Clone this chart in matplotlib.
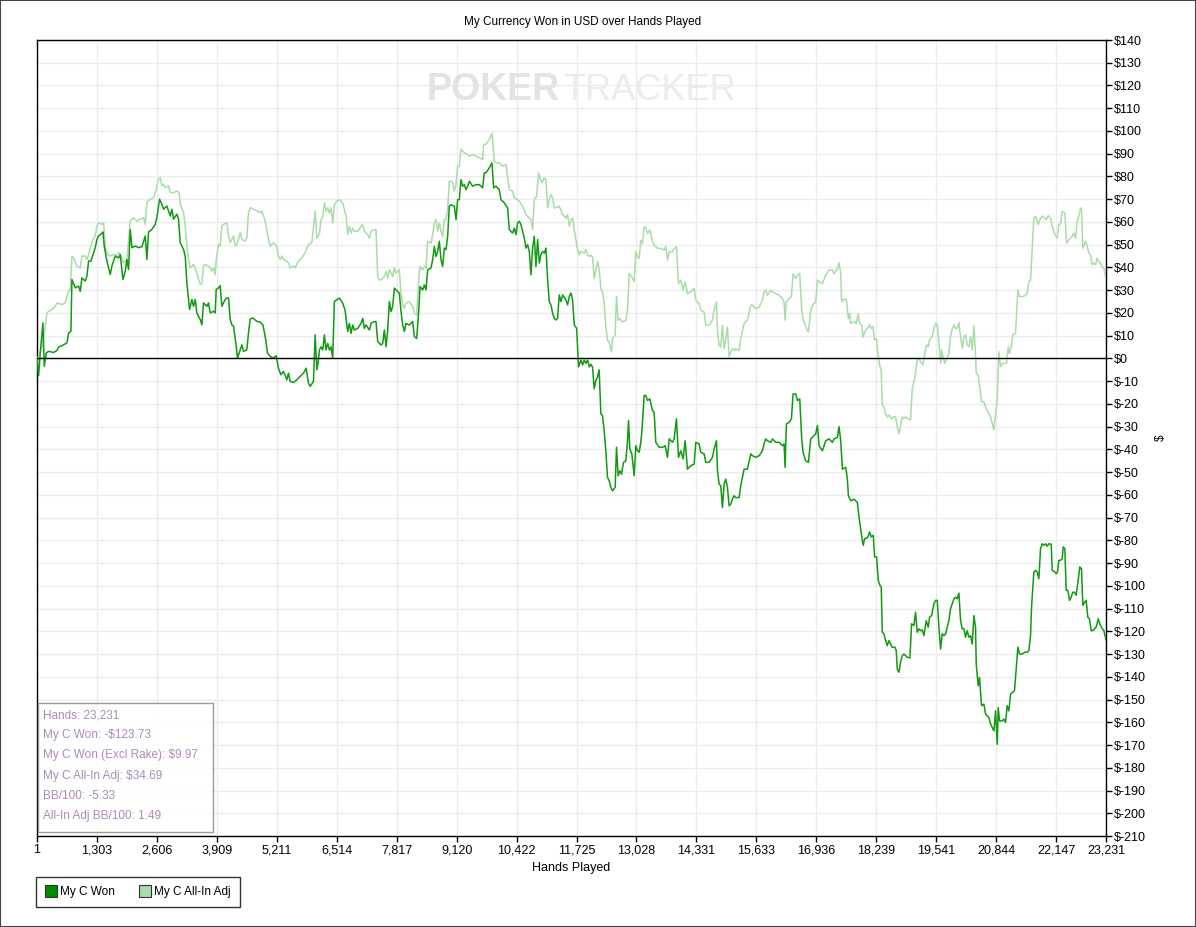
import matplotlib
matplotlib.use("Agg")
import matplotlib.pyplot as plt
from matplotlib.lines import Line2D
from matplotlib.patches import Rectangle

# --- data ----------------------------------------------------------------
won_hands = [1, 36, 72, 130, 159, 203, 253, 362, 434, 471, 579, 652, 688, 738, 760, 833, 905, 941,
             977, 1050, 1086, 1122, 1173, 1231, 1267, 1303, 1339, 1412, 1434, 1462, 1520, 1593, 1629,
             1701, 1774, 1810, 1868, 1919, 1955, 1991, 2027, 2063, 2136, 2208, 2281, 2353, 2389, 2425,
             2498, 2570, 2606, 2664, 2715, 2751, 2824, 2896, 2932, 2968, 3041, 3077, 3113, 3186, 3222,
             3258, 3316, 3367, 3403, 3439, 3475, 3511, 3548, 3584, 3620, 3692, 3728, 3765, 3837, 3873,
             3895, 3946, 3982, 4018, 4054, 4090, 4127, 4163, 4199, 4235, 4272, 4330, 4358, 4416, 4453,
             4489, 4561, 4597, 4634, 4692, 4778, 4851, 4909, 4959, 5010, 5068, 5140, 5198, 5249, 5300,
             5358, 5430, 5466, 5502, 5575, 5647, 5720, 5792, 5850, 5901, 5937, 6009, 6045, 6082, 6118,
             6138, 6174, 6210, 6246, 6282, 6319, 6355, 6391, 6427, 6463, 6514, 6572, 6644, 6695, 6753,
             6789, 6825, 6862, 6898, 6970, 7043, 7079, 7115, 7151, 7224, 7260, 7332, 7368, 7405, 7477,
             7513, 7549, 7586, 7622, 7658, 7694, 7730, 7767, 7803, 7875, 7911, 7948, 7984, 8020, 8092,
             8165, 8201, 8252, 8295, 8324, 8382, 8418, 8454, 8491, 8563, 8599, 8635, 8672, 8708, 8744,
             8780, 8816, 8853, 8889, 8925, 8961, 8997, 9070, 9106, 9142, 9178, 9215, 9251, 9287, 9323,
             9359, 9396, 9468, 9540, 9613, 9685, 9721, 9758, 9830, 9888, 9924, 9975, 10047, 10083,
             10156, 10228, 10264, 10337, 10373, 10409, 10445, 10482, 10518, 10554, 10590, 10626, 10663,
             10699, 10735, 10771, 10807, 10844, 10880, 10916, 10952, 10988, 11025, 11061, 11097, 11133,
             11169, 11206, 11242, 11278, 11314, 11350, 11387, 11423, 11495, 11531, 11568, 11604, 11640,
             11676, 11727, 11770, 11821, 11857, 11893, 11929, 11966, 12002, 12036, 12073, 12109, 12145,
             12181, 12217, 12254, 12290, 12326, 12362, 12398, 12435, 12471, 12507, 12565, 12594, 12630,
             12666, 12702, 12746, 12797, 12833, 12855, 12883, 12927, 12978, 13014, 13050, 13086, 13122,
             13144, 13195, 13231, 13267, 13318, 13376, 13412, 13448, 13521, 13593, 13651, 13702, 13738,
             13810, 13846, 13897, 13941, 13991, 14042, 14085, 14136, 14208, 14281, 14317, 14389, 14426,
             14498, 14534, 14607, 14679, 14715, 14766, 14788, 14824, 14860, 14896, 14932, 14969, 15005,
             15041, 15077, 15113, 15150, 15186, 15258, 15294, 15331, 15367, 15439, 15512, 15548, 15620,
             15693, 15765, 15801, 15837, 15874, 15946, 15982, 16055, 16127, 16199, 16236, 16257, 16286,
             16344, 16395, 16431, 16489, 16525, 16576, 16619, 16648, 16706, 16764, 16815, 16851, 16923,
             16960, 16996, 17068, 17141, 17213, 17285, 17322, 17394, 17430, 17466, 17503, 17575, 17611,
             17633, 17684, 17756, 17828, 17865, 17935, 17957, 17985, 18022, 18058, 18094, 18130, 18174,
             18203, 18246, 18282, 18319, 18347, 18369, 18405, 18442, 18478, 18514, 18550, 18586, 18644,
             18673, 18695, 18731, 18767, 18804, 18840, 18876, 18912, 18970, 19006, 19057, 19093, 19129,
             19166, 19202, 19238, 19274, 19325, 19368, 19397, 19441, 19491, 19528, 19564, 19600, 19636,
             19672, 19709, 19745, 19781, 19817, 19853, 19890, 19926, 19962, 19998, 20034, 20071, 20107,
             20143, 20179, 20215, 20252, 20288, 20324, 20360, 20396, 20411, 20454, 20483, 20527, 20577,
             20614, 20650, 20686, 20722, 20758, 20795, 20831, 20867, 20889, 20918, 20976, 21012, 21048,
             21084, 21120, 21157, 21193, 21243, 21280, 21316, 21352, 21410, 21468, 21519, 21555, 21591,
             21613, 21663, 21700, 21736, 21772, 21808, 21844, 21881, 21917, 21953, 21989, 22040, 22062,
             22120, 22149, 22177, 22206, 22243, 22279, 22301, 22337, 22366, 22402, 22438, 22474, 22510,
             22547, 22583, 22626, 22662, 22699, 22728, 22764, 22800, 22836, 22872, 22909, 22945, 22981,
             23017, 23061, 23097, 23148, 23184, 23231]
won_usd = [0, -7.6, 2.4, 15.6, -3.5, 2.4, 3.1, 2.6, 3.5, 5.0, 6.0, 6.8, 11.2, 11.9, 34.7, 31.0, 31.8,
           29.5, 35.4, 34.0, 36.2, 42.8, 42.8, 46.5, 48.7, 52.3, 53.8, 55.0, 55.6, 49.4, 42.8, 36.9,
           40.6, 45.0, 44.2, 45.7, 34.7, 38.4, 43.5, 39.1, 56.7, 48.7, 49.4, 48.7, 49.1, 53.8, 43.5,
           55.6, 56.7, 58.9, 61.9, 70.0, 67.8, 65.6, 67.0, 62.6, 65.6, 61.2, 63.4, 61.2, 50.9, 47.9,
           45.0, 33.2, 21.5, 25.9, 22.9, 25.9, 20.0, 18.5, 17.1, 14.8, 24.4, 22.9, 24.4, 20.0, 20.7,
           20.0, 30.3, 31.0, 32.0, 22.9, 24.4, 25.9, 26.6, 26.6, 17.1, 14.8, 14.1, 5.3, 0.1, 3.8, 6.0,
           3.1, 3.8, 11.2, 17.3, 17.8, 16.3, 15.9, 14.8, 9.7, 2.4, 0.9, 0.1, 1.2, -4.3, -7.2, -5.7,
           -9.4, -6.5, -10.1, -10.6, -9.4, -7.9, -6.5, -4.3, -10.9, -12.3, -10.1, 10.4, -5.0, -0.6,
           3.7, 5.1, 3.7, 10.3, 3.7, 6.6, 3.7, 5.1, 0.0, 25.0, 25.7, 26.5, 24.3, 21.3, 11.8, 15.4,
           11.0, 14.7, 12.5, 13.2, 15.4, 17.6, 13.2, 14.7, 12.5, 15.4, 16.2, 16.2, 7.4, 5.9, 6.6, 12.5,
           5.1, 12.5, 25.0, 20.6, 22.8, 30.9, 30.1, 28.7, 20.6, 14.7, 11.8, 15.4, 14.7, 16.2, 9.6, 8.8,
           20.6, 31.6, 30.1, 32.3, 30.1, 39.0, 39.7, 43.4, 49.2, 44.8, 47.0, 51.5, 43.4, 40.4, 48.5,
           47.8, 53.7, 66.9, 67.6, 66.9, 61.0, 69.8, 69.8, 78.6, 75.7, 76.4, 74.2, 75.7, 77.9, 75.7,
           76.4, 76.4, 75.0, 81.6, 81.6, 83.8, 86.0, 75.0, 75.7, 74.2, 69.8, 68.4, 66.2, 56.6, 55.1,
           57.3, 54.4, 59.5, 60.3, 58.8, 55.9, 52.9, 48.5, 50.0, 47.0, 36.8, 48.5, 53.7, 40.4, 52.2,
           41.9, 45.6, 47.0, 46.3, 48.5, 34.5, 25.0, 23.5, 19.8, 17.6, 16.9, 17.6, 27.9, 25.0, 27.9,
           25.7, 23.5, 27.2, 28.7, 25.7, 14.7, 13.2, -3.7, -0.7, -2.9, -0.7, -2.2, -0.7, -3.7, -2.6,
           -3.8, -13.4, -9.7, -8.2, -5.0, -24.4, -25.1, -31.8, -40.6, -52.3, -53.8, -56.7, -58.2,
           -56.7, -39.1, -51.6, -49.4, -50.9, -45.7, -45.0, -36.2, -27.3, -39.8, -42.0, -51.6, -38.4,
           -40.6, -41.3, -36.9, -32.5, -16.3, -16.3, -18.5, -17.8, -22.9, -23.7, -36.9, -39.1, -39.1,
           -38.4, -43.5, -35.4, -36.9, -35.4, -26.6, -43.5, -40.6, -44.2, -36.2, -48.7, -47.2, -46.5,
           -36.9, -37.6, -41.3, -42.0, -45.7, -45.7, -43.5, -39.8, -36.2, -49.4, -55.3, -56.0, -65.6,
           -55.3, -53.1, -56.7, -64.8, -64.1, -61.9, -60.4, -61.2, -61.2, -56.0, -52.3, -48.7, -48.7,
           -42.0, -42.8, -43.5, -42.8, -40.6, -37.6, -35.4, -36.2, -36.9, -35.4, -36.9, -36.9, -38.4,
           -37.6, -47.9, -28.8, -28.1, -26.6, -15.6, -15.6, -18.5, -17.8, -35.4, -41.3, -45.0, -45.7,
           -35.4, -34.7, -33.2, -29.5, -38.4, -40.6, -36.2, -35.4, -36.9, -35.4, -34.7, -30.0, -36.2,
           -48.7, -47.9, -53.1, -60.4, -62.6, -61.9, -63.4, -70.0, -80.0, -82.2, -79.2, -79.2, -78.5,
           -76.3, -78.5, -77.8, -87.3, -87.3, -97.6, -99.8, -100.6, -120.4, -121.1, -124.1, -126.3,
           -124.1, -125.6, -127.0, -127.0, -128.5, -136.6, -138.0, -133.6, -130.7, -130.0, -130.7,
           -131.4, -131.7, -116.7, -117.5, -111.6, -120.4, -118.9, -119.7, -119.4, -121.9, -115.3,
           -118.2, -113.8, -113.1, -107.9, -106.4, -106.4, -118.2, -127.8, -121.1, -121.9, -121.1,
           -118.2, -115.3, -110.1, -107.9, -105.7, -105.0, -105.7, -103.2, -115.3, -118.9, -118.9,
           -122.6, -119.7, -122.6, -121.9, -125.6, -113.1, -118.2, -134.4, -143.9, -140.3, -152.7,
           -152.0, -156.4, -157.2, -157.9, -160.8, -162.3, -163.8, -155.0, -169.7, -153.5, -159.4,
           -159.4, -158.6, -160.1, -152.7, -155.0, -147.6, -146.9, -146.1, -136.6, -127.0, -130.0,
           -130.0, -129.2, -129.2, -128.5, -121.9, -109.4, -93.9, -93.2, -93.9, -96.9, -83.7, -81.5,
           -82.2, -81.5, -82.6, -81.5, -81.7, -93.2, -93.9, -94.7, -93.9, -88.8, -88.8, -88.1, -82.9,
           -83.7, -102.0, -102.0, -106.4, -105.0, -102.8, -102.8, -104.2, -97.6, -91.7, -92.5, -108.6,
           -107.2, -106.4, -113.8, -114.5, -119.7, -119.7, -118.9, -118.2, -114.5, -116.7, -118.9,
           -119.7, -123.73]

adj_hands = [1, 36, 108, 181, 217, 253, 326, 398, 434, 543, 615, 652, 688, 724, 760, 796, 869, 941,
             977, 1050, 1086, 1122, 1158, 1231, 1267, 1303, 1339, 1412, 1448, 1484, 1535, 1593, 1665,
             1723, 1774, 1810, 1882, 1955, 2027, 2099, 2172, 2244, 2317, 2353, 2389, 2462, 2534, 2592,
             2643, 2679, 2715, 2751, 2787, 2860, 2896, 2968, 3041, 3091, 3113, 3186, 3222, 3258, 3294,
             3330, 3367, 3403, 3475, 3511, 3548, 3584, 3620, 3656, 3728, 3765, 3801, 3837, 3873, 3895,
             3946, 3982, 4018, 4054, 4127, 4163, 4199, 4235, 4272, 4308, 4344, 4380, 4416, 4453, 4525,
             4561, 4597, 4634, 4706, 4778, 4851, 4887, 4959, 5031, 5068, 5140, 5213, 5249, 5285, 5321,
             5358, 5430, 5466, 5502, 5575, 5611, 5683, 5756, 5828, 5901, 5973, 6045, 6082, 6140, 6174,
             6210, 6246, 6282, 6319, 6355, 6391, 6427, 6463, 6514, 6572, 6644, 6680, 6717, 6753, 6789,
             6825, 6862, 6898, 6970, 7043, 7079, 7115, 7151, 7188, 7224, 7260, 7332, 7368, 7405, 7441,
             7477, 7549, 7586, 7622, 7658, 7694, 7730, 7767, 7803, 7875, 7911, 7948, 7984, 8020, 8092,
             8165, 8201, 8252, 8295, 8324, 8382, 8418, 8454, 8491, 8563, 8599, 8635, 8672, 8708, 8744,
             8780, 8816, 8853, 8889, 8925, 8961, 8997, 9034, 9070, 9106, 9142, 9178, 9215, 9251, 9287,
             9359, 9396, 9468, 9540, 9613, 9685, 9707, 9758, 9830, 9888, 9939, 9975, 10047, 10120,
             10192, 10264, 10337, 10373, 10445, 10482, 10554, 10626, 10699, 10735, 10771, 10807, 10858,
             10901, 10930, 10973, 11025, 11061, 11097, 11133, 11169, 11206, 11242, 11278, 11350, 11423,
             11459, 11495, 11531, 11568, 11604, 11640, 11676, 11712, 11748, 11785, 11821, 11893, 11929,
             11966, 12002, 12036, 12073, 12109, 12145, 12181, 12217, 12254, 12290, 12326, 12362, 12398,
             12435, 12485, 12507, 12565, 12594, 12630, 12666, 12724, 12797, 12833, 12869, 12927, 12978,
             13014, 13050, 13086, 13122, 13159, 13195, 13231, 13267, 13318, 13376, 13412, 13484, 13557,
             13629, 13665, 13702, 13738, 13810, 13846, 13897, 13941, 13991, 14042, 14085, 14136, 14208,
             14281, 14317, 14389, 14426, 14498, 14534, 14607, 14679, 14715, 14766, 14788, 14824, 14860,
             14896, 14932, 14969, 15005, 15041, 15077, 15113, 15150, 15186, 15258, 15294, 15331, 15367,
             15439, 15512, 15548, 15620, 15693, 15765, 15801, 15837, 15874, 15946, 15982, 16055, 16127,
             16199, 16236, 16257, 16286, 16344, 16395, 16431, 16489, 16525, 16576, 16619, 16648, 16706,
             16764, 16815, 16851, 16923, 16960, 16996, 17068, 17141, 17213, 17285, 17322, 17394, 17430,
             17466, 17486, 17537, 17587, 17631, 17660, 17681, 17754, 17804, 17841, 17877, 17920, 17949,
             17993, 18043, 18094, 18130, 18166, 18203, 18246, 18282, 18319, 18347, 18369, 18405, 18442,
             18478, 18514, 18572, 18608, 18659, 18695, 18731, 18767, 18804, 18840, 18876, 18948, 18985,
             19021, 19079, 19129, 19166, 19202, 19252, 19296, 19332, 19368, 19397, 19455, 19491, 19528,
             19564, 19600, 19636, 19658, 19687, 19730, 19759, 19817, 19853, 19890, 19926, 19962, 19998,
             20034, 20071, 20107, 20143, 20179, 20215, 20252, 20288, 20324, 20360, 20396, 20411, 20454,
             20483, 20527, 20577, 20614, 20664, 20722, 20758, 20795, 20831, 20867, 20903, 20939, 20976,
             21026, 21070, 21106, 21135, 21171, 21207, 21265, 21316, 21352, 21410, 21468, 21519, 21555,
             21591, 21613, 21663, 21700, 21758, 21794, 21844, 21902, 21931, 21975, 22025, 22062, 22120,
             22149, 22170, 22206, 22243, 22279, 22337, 22373, 22424, 22496, 22532, 22568, 22605, 22641,
             22677, 22699, 22728, 22786, 22822, 22858, 22894, 22930, 22967, 23003, 23039, 23075, 23111,
             23148, 23184, 23231]
adj_usd = [0, 0.9, 5.3, 14.1, 20.0, 20.7, 21.5, 22.9, 24.4, 23.7, 24.4, 27.3, 29.5, 30.3, 45.0, 44.2,
           40.6, 39.8, 45.0, 45.0, 43.5, 45.7, 48.7, 53.1, 53.8, 58.2, 59.7, 58.9, 59.7, 48.7, 45.7,
           45.0, 45.7, 45.0, 46.5, 45.7, 42.0, 43.5, 60.4, 61.9, 60.4, 61.2, 61.9, 58.9, 68.5, 70.0,
           70.7, 74.4, 78.8, 79.5, 75.9, 76.6, 75.1, 75.9, 72.9, 72.9, 73.6, 72.9, 67.8, 64.1, 58.2,
           49.4, 43.5, 39.8, 40.6, 41.3, 37.6, 34.7, 32.5, 33.2, 40.6, 41.3, 40.6, 39.8, 38.4, 39.8,
           36.9, 43.5, 50.1, 49.4, 58.2, 58.9, 59.7, 53.8, 50.9, 52.3, 53.8, 49.4, 50.1, 52.3, 55.3,
           52.3, 51.6, 53.1, 64.1, 66.3, 65.6, 64.8, 64.1, 64.8, 60.4, 52.3, 49.4, 50.9, 49.4, 45.0,
           43.5, 45.0, 43.5, 42.8, 42.0, 39.8, 40.6, 39.8, 42.8, 44.2, 46.5, 50.1, 50.9, 64.8, 52.9,
           55.0, 61.0, 62.5, 68.4, 64.7, 66.2, 63.9, 66.2, 59.5, 67.6, 69.1, 69.8, 68.4, 65.4, 62.5,
           54.4, 58.1, 55.1, 57.3, 55.9, 55.9, 58.1, 58.8, 55.9, 55.1, 54.4, 52.9, 55.9, 56.6, 56.6,
           36.0, 34.5, 34.5, 36.0, 38.2, 35.3, 39.0, 37.5, 36.0, 39.7, 37.5, 39.0, 28.7, 23.5, 22.1,
           24.3, 25.0, 22.8, 19.8, 19.1, 34.5, 40.4, 39.0, 40.4, 39.7, 51.5, 50.7, 54.4, 59.5, 61.0,
           55.9, 59.5, 55.9, 53.7, 61.0, 61.0, 65.4, 77.9, 77.9, 77.2, 73.5, 76.4, 84.5, 84.5, 91.9,
           91.1, 90.4, 89.7, 88.9, 89.7, 88.9, 88.2, 87.5, 94.1, 94.1, 96.3, 98.9, 86.7, 86.0, 86.0,
           84.5, 85.3, 74.2, 73.5, 70.6, 69.8, 69.1, 66.9, 63.2, 61.7, 61.0, 56.6, 69.8, 71.3, 81.6,
           79.4, 77.2, 79.4, 78.6, 66.2, 69.8, 72.0, 70.6, 66.2, 66.2, 66.9, 63.2, 62.5, 61.7, 63.2,
           58.1, 61.0, 61.7, 56.6, 52.2, 47.8, 45.6, 47.0, 46.3, 47.8, 45.6, 44.8, 45.4, 44.7, 35.1,
           38.8, 42.5, 39.5, 30.7, 29.3, 24.1, 13.8, 7.9, 7.2, 2.8, 8.7, 10.1, 27.3, 16.8, 17.5, 16.0,
           16.8, 21.2, 37.3, 35.9, 33.7, 46.9, 44.7, 44.0, 52.0, 50.6, 57.9, 57.6, 55.0, 56.4, 51.3,
           49.8, 48.4, 48.4, 47.6, 49.1, 43.2, 46.9, 46.9, 48.4, 49.1, 32.9, 34.4, 30.0, 33.7, 28.5,
           29.3, 30.7, 25.6, 24.1, 21.2, 20.4, 14.6, 14.6, 16.8, 21.2, 24.8, 12.3, 5.7, 5.0, 14.6, 4.3,
           8.7, 13.8, 0.6, 2.8, 4.3, 3.5, 4.3, 3.5, 8.7, 12.3, 15.3, 16.8, 23.4, 23.4, 21.9, 22.6,
           25.6, 29.3, 30.0, 27.8, 30.0, 29.3, 28.5, 27.8, 26.3, 24.8, 16.8, 24.8, 26.3, 27.0, 37.3,
           35.1, 36.6, 37.3, 21.2, 17.5, 13.8, 11.6, 21.2, 23.4, 24.8, 34.4, 33.7, 32.9, 36.6, 38.8,
           38.8, 37.3, 39.5, 42.0, 37.3, 25.0, 26.0, 26.0, 17.6, 19.8, 15.4, 16.2, 15.4, 19.6, 15.4,
           14.7, 9.3, 11.8, 13.2, 14.7, 13.2, 14.0, 8.1, 8.4, 0.7, -3.7, -5.1, -20.6, -21.3, -24.3,
           -25.7, -25.0, -26.5, -25.7, -25.7, -30.1, -33.1, -29.4, -25.7, -26.5, -25.7, -26.9, -26.9,
           -13.2, -8.1, -0.7, 0.0, -1.5, -2.9, 2.2, 5.9, 5.1, 8.1, 9.6, 13.2, 15.4, 14.7, 6.6, -2.2,
           3.7, 0.7, -2.2, -0.7, 2.2, 9.6, 13.2, 14.7, 13.2, 13.2, 15.7, 9.6, 4.4, 9.6, 10.3, 5.9, 5.1,
           9.6, 3.7, 14.3, 2.2, -6.6, -7.4, -11.8, -19.1, -19.1, -21.3, -23.5, -25.7, -28.7, -31.3,
           -24.3, -18.4, 2.9, -3.7, -2.2, -2.2, -2.2, 5.1, 2.2, 5.1, 10.3, 11.0, 30.1, 27.2, 27.2,
           27.5, 28.7, 33.8, 34.5, 42.6, 61.7, 62.5, 58.8, 61.0, 62.5, 61.7, 61.0, 62.8, 61.7, 58.1,
           54.4, 53.7, 52.9, 58.8, 59.2, 64.7, 63.9, 50.7, 52.2, 53.7, 55.1, 52.9, 60.3, 62.5, 66.2,
           65.4, 48.5, 51.5, 49.2, 46.3, 45.6, 41.2, 41.9, 41.2, 44.1, 42.6, 41.9, 40.4, 39.7, 34.69]

x_ticks = [1, 1303, 2606, 3909, 5211, 6514, 7817, 9120, 10422, 11725, 13028, 14331, 15633,
           16936, 18239, 19541, 20844, 22147, 23231]
y_ticks = list(range(-210, 150, 10))

stats_lines = ["Hands: 23,231", "My C Won: -$123.73", "My C Won (Excl Rake): $9.97",
               "My C All-In Adj: $34.69", "BB/100: -5.33", "All-In Adj BB/100: 1.49"]

dark_green = "#119a11"
light_green = "#a9dca9"

plt.rcParams["font.family"] = ["Liberation Sans", "DejaVu Sans"]
plt.rcParams["font.size"] = 8.5

fig = plt.figure(figsize=(11.96, 9.27), dpi=100)
W, H = 1196, 927
ax = fig.add_axes([37 / W, 1 - 836 / H, (1106 - 37) / W, (836 - 40) / H])

# watermark
fig.text(560 / W, 1 - 90 / H, "POKER", ha="right", va="center", fontsize=27,
         fontweight="bold", color="#e3e3e3", zorder=0)
fig.text(563 / W, 1 - 90 / H, "TRACKER", ha="left", va="center", fontsize=26,
         color="#ececec", zorder=0)
ax.set_facecolor("none")

ax.plot(adj_hands, adj_usd, color=light_green, lw=1.1, zorder=3)
ax.plot(won_hands, won_usd, color=dark_green, lw=1.1, zorder=4)
ax.axhline(0, color="black", lw=1.0, zorder=5)

ax.set_xlim(1, 23231)
ax.set_ylim(-210, 140)
ax.set_xticks(x_ticks)
ax.set_xticklabels([f"{v:,}" for v in x_ticks])
ax.set_yticks(y_ticks)
ax.set_yticklabels([f"${v}" for v in y_ticks])
ax.yaxis.tick_right()
ax.yaxis.set_label_position("right")
ax.tick_params(direction="out", length=4, width=1, color="black", pad=2)
ax.tick_params(axis="x", labelsize=9)
ax.tick_params(axis="y", labelsize=9)
ax.grid(True, color="#ececec", lw=1, zorder=0)
ax.set_axisbelow(True)
for s in ax.spines.values():
    s.set_color("black")
    s.set_linewidth(1)

ax.set_xlabel("Hands Played", labelpad=4, fontsize=9)
ax.set_ylabel("$", labelpad=6)
fig.text(583 / W, 1 - 22 / H, "My Currency Won in USD over Hands Played",
         ha="center", va="center", fontsize=8.5)

# stats box in lower left
ax.add_patch(Rectangle((1 / 1069, 4 / 796), 175 / 1069, 129 / 796, transform=ax.transAxes,
                       facecolor="white", edgecolor="#8a8a8a", lw=1, alpha=0.85, zorder=6))
for i, line in enumerate(stats_lines):
    ax.text(6 / 1069, (836 - 715 - i * 20.2) / 796, line, transform=ax.transAxes,
            ha="left", va="center", color="#a98cb6", fontsize=8.5, zorder=7)

# legend under the plot
handles = [Line2D([], [], ls="none", marker="s", markersize=8, markerfacecolor="#008c00",
                  markeredgecolor="#333333", markeredgewidth=0.8, label="My C Won"),
           Line2D([], [], ls="none", marker="s", markersize=8, markerfacecolor=light_green,
                  markeredgecolor="#333333", markeredgewidth=0.8, label="My C All-In Adj")]
leg = fig.legend(handles=handles, loc="upper left", bbox_to_anchor=(36 / W, 1 - 877 / H),
                 ncol=2, frameon=True, fancybox=False, borderaxespad=0, handletextpad=0.3,
                 columnspacing=2.0, borderpad=0.75, handlelength=1.0, fontsize=8.5)
leg.get_frame().set_edgecolor("black")
leg.get_frame().set_linewidth(1)

# outer border of the image
fig.patches.append(Rectangle((0, 0), 1, 1, transform=fig.transFigure, fill=False,
                             edgecolor="#444444", lw=1.5))

fig.savefig("out.png", dpi=100)
